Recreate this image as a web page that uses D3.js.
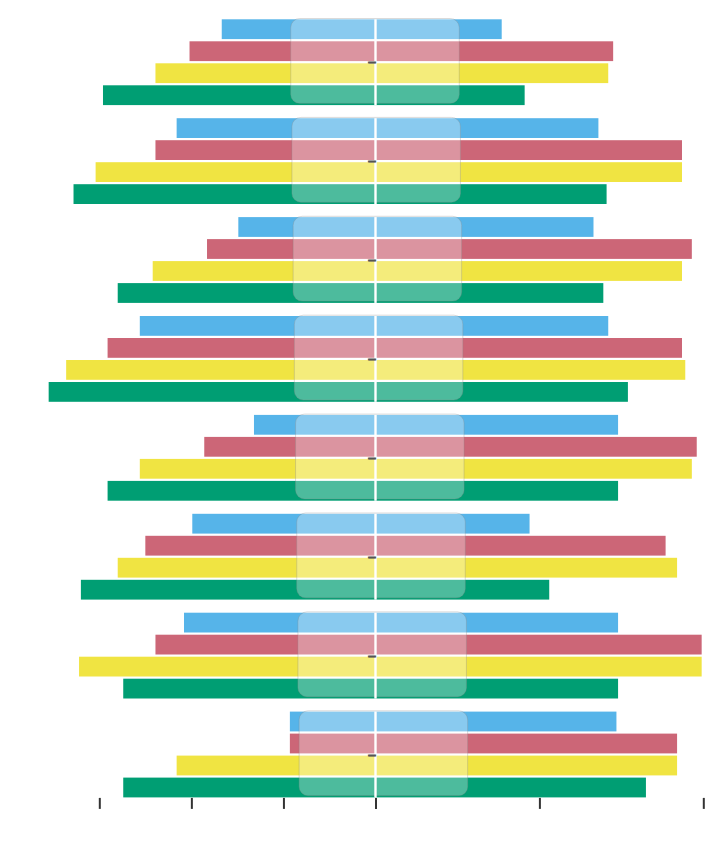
<!DOCTYPE html>
<html>
<head>
<meta charset="utf-8">
<script src="https://cdn.jsdelivr.net/npm/d3@7"></script>
<style>
  html, body { margin: 0; padding: 0; background: #fff; }
  svg { display: block; }
</style>
</head>
<body>
<svg id="chart" width="714" height="841"></svg>
<script>
// ---- data ----
const groups = ["1", "2", "3", "4", "5", "6", "7", "8"];
const seriesNames = ["blue", "red", "yellow", "green"];
const seriesColors = ["#56B4E9", "#CC6677", "#F0E442", "#009E73"];
// left-side magnitudes (drawn leftwards)
const leftBlue   = [16.7, 21.6, 14.9, 25.6, 13.2, 19.9, 20.8, 9.3];
const leftRed    = [20.2, 23.9, 18.3, 29.1, 18.6, 25.0, 23.9, 9.3];
const leftYellow = [23.9, 30.4, 24.2, 33.6, 25.6, 28.0, 32.2, 21.6];
const leftGreen  = [29.6, 32.8, 28.0, 35.5, 29.1, 32.0, 27.4, 27.4];
// right-side magnitudes
const rightBlue   = [7.7, 13.6, 13.3, 14.2, 14.8, 9.4, 14.8, 14.7];
const rightRed    = [14.5, 18.7, 19.3, 18.7, 19.6, 17.7, 19.9, 18.4];
const rightYellow = [14.2, 18.7, 18.7, 18.9, 19.3, 18.4, 19.9, 18.4];
const rightGreen  = [9.1, 14.1, 13.9, 15.4, 14.8, 10.6, 14.8, 16.5];
const tickValues = [-30, -20, -10, 0, 10, 20];

const leftSeries = [leftBlue, leftRed, leftYellow, leftGreen];
const rightSeries = [rightBlue, rightRed, rightYellow, rightGreen];

// ---- scales ----
const svg = d3.select("#chart");
const x = d3.scaleLinear().domain([-30, 0, 20]).range([99.3, 375.5, 703.3]);
const y = d3.scaleBand().domain(groups).range([19.3, 797.4]).paddingInner(0.1325).paddingOuter(0);
const ys = d3.scaleBand().domain(seriesNames).range([0, y.bandwidth()]).paddingInner(0.1);

const rows = [];
groups.forEach((g, gi) => {
  seriesNames.forEach((s, si) => {
    rows.push({ g, gi, s, si, left: leftSeries[si][gi], right: rightSeries[si][gi] });
  });
});

const gGroups = svg.append("g");

// bars
gGroups.selectAll("rect.left").data(rows).join("rect")
  .attr("class", "left")
  .attr("x", d => x(-d.left))
  .attr("y", d => y(d.g) + ys(d.s))
  .attr("width", d => x(0) - x(-d.left))
  .attr("height", ys.bandwidth())
  .attr("fill", d => seriesColors[d.si]);

gGroups.selectAll("rect.right").data(rows).join("rect")
  .attr("class", "right")
  .attr("x", x(0))
  .attr("y", d => y(d.g) + ys(d.s))
  .attr("width", d => x(d.right) - x(0))
  .attr("height", ys.bandwidth())
  .attr("fill", d => seriesColors[d.si]);

// translucent label boxes
const boxW = 168.5;
gGroups.selectAll("rect.box").data(groups).join("rect")
  .attr("class", "box")
  .attr("x", (d, i) => x(0) - 0.5 + i * 1.2 - boxW / 2)
  .attr("y", d => y(d) - 0.8)
  .attr("width", boxW)
  .attr("height", y.bandwidth() - 1)
  .attr("rx", 9).attr("ry", 9)
  .attr("fill", "#ffffff")
  .attr("fill-opacity", 0.3)
  .attr("stroke", "#8a8a8a")
  .attr("stroke-opacity", 0.4)
  .attr("stroke-width", 0.8);

// white centre line per group
gGroups.selectAll("line.center").data(groups).join("line")
  .attr("class", "center")
  .attr("x1", x(0)).attr("x2", x(0))
  .attr("y1", d => y(d))
  .attr("y2", d => y(d) + y.bandwidth())
  .attr("stroke", "#ffffff")
  .attr("stroke-width", 2.4);

// tiny centre marks
gGroups.selectAll("text.mark").data(groups).join("text")
  .attr("class", "mark")
  .attr("x", x(0) - 3.5)
  .attr("y", d => y(d) + y.bandwidth() / 2 + 3)
  .attr("text-anchor", "middle")
  .attr("font-family", "DejaVu Sans")
  .attr("font-size", 8)
  .attr("font-weight", "bold")
  .attr("fill", "#555")
  .attr("stroke", "#555")
  .attr("stroke-width", 0.9)
  .text("—");

// axis
const axis = svg.append("g")
  .attr("transform", `translate(0, ${y.range()[1] + 0.5})`)
  .call(d3.axisBottom(x).tickValues(tickValues).tickSize(11).tickFormat(""));
axis.select(".domain").remove();
axis.selectAll(".tick line").attr("stroke", "#333").attr("stroke-width", 2);
</script>
</body>
</html>
